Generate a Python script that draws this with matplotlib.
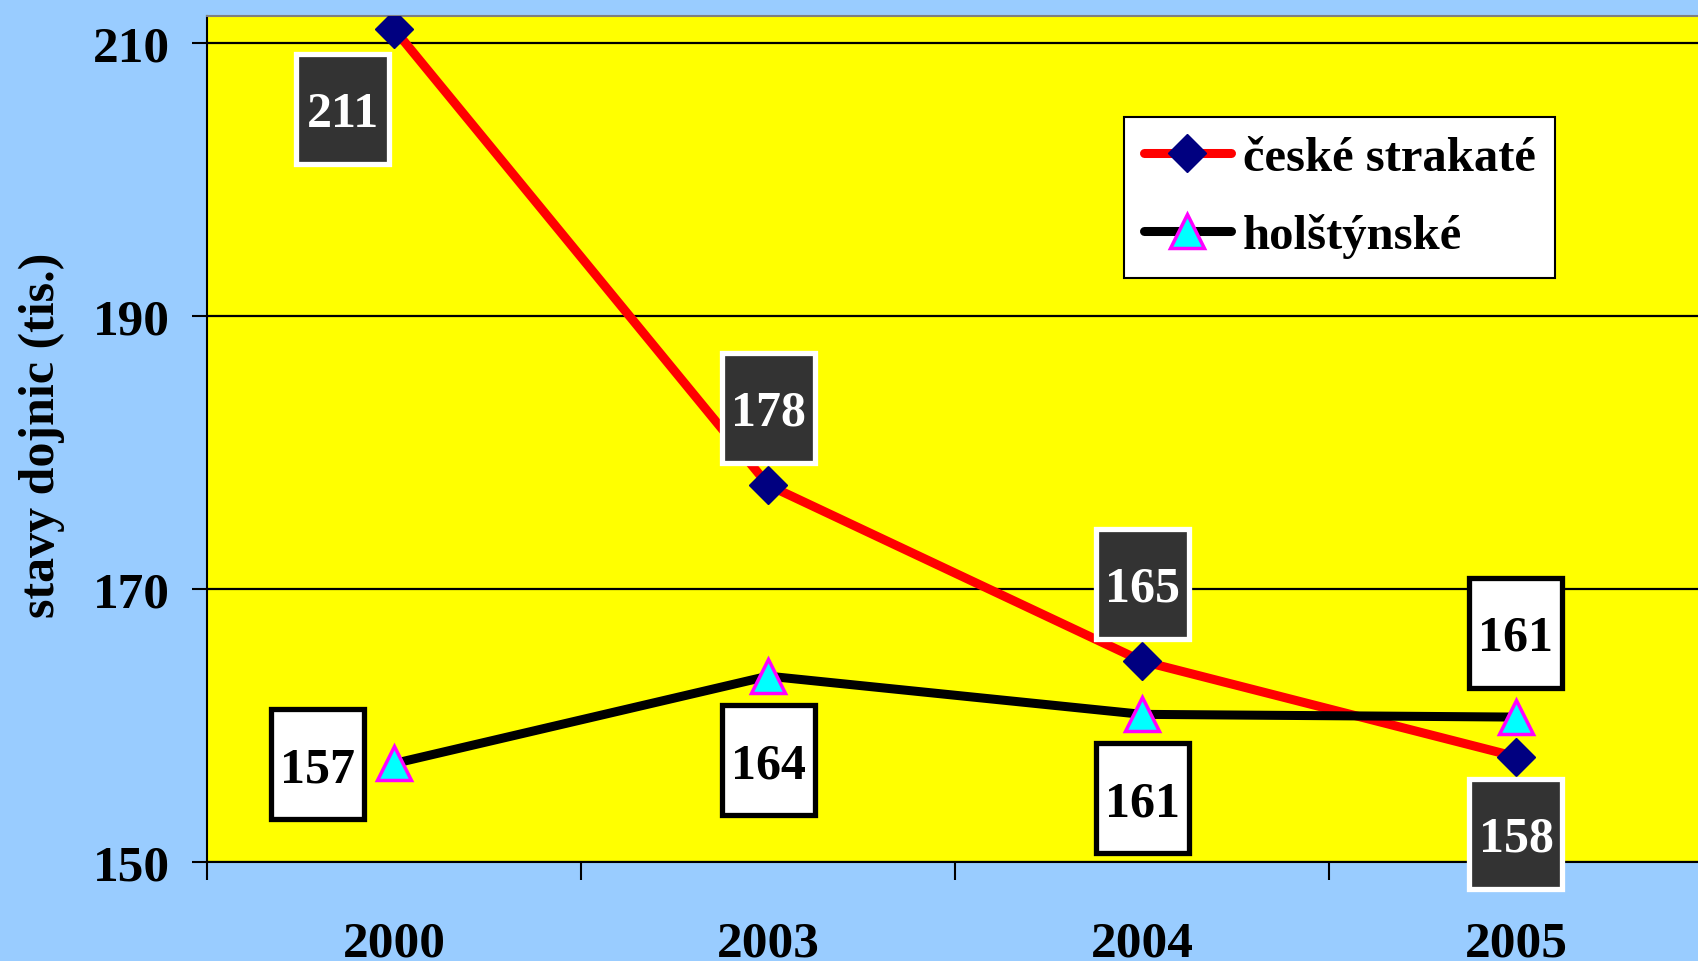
import matplotlib
matplotlib.use('Agg')
import matplotlib.pyplot as plt
from matplotlib.path import Path

years = ['2000', '2003', '2004', '2005']
ceske = [211.0, 177.6, 164.7, 157.7]
holstyn = [157.2, 163.6, 160.8, 160.6]
series_names = ['české strakaté', 'holštýnské']
yticks = [150, 170, 190, 210]

# label offsets (points) relative to the marker
ceske_off = [(-37, -61), (0, 52), (0, 52), (0, -59)]
holstyn_off = [(-55, -4), (0, -64), (0, -64), (0, 57)]

plt.rcParams['font.family'] = ['Liberation Serif', 'DejaVu Serif']
plt.rcParams['font.weight'] = 'bold'


def label_box(x0, y0, width, height, mutation_size):
    # fixed size box, centred on the digits
    w = 1.86 * mutation_size
    h = 2.2 * mutation_size
    cx = x0 + width / 2
    cy = y0 + height / 2 + 0.1 * mutation_size
    verts = [(cx - w / 2, cy - h / 2), (cx + w / 2, cy - h / 2),
             (cx + w / 2, cy + h / 2), (cx - w / 2, cy + h / 2),
             (cx - w / 2, cy - h / 2)]
    return Path(verts, closed=True)


fig = plt.figure(figsize=(16.98, 9.62), dpi=100, facecolor='#99CCFF')
ax = fig.add_axes([0.1221, 0.1032, 0.8808, 0.8794])
ax.set_facecolor('#FFFF00')

x = list(range(len(years)))
ax.plot(x, ceske, color='#FF0000', lw=6.5, marker='D', ms=19,
        mfc='#000080', mec='#000080', label=series_names[0], zorder=3,
        solid_capstyle='round')
ax.plot(x, holstyn, color='black', lw=6.5, marker='^', ms=25,
        mfc='#00FFFF', mec='#FF00FF', mew=2.5, label=series_names[1], zorder=3,
        solid_capstyle='round')

for xi, v, off in zip(x, ceske, ceske_off):
    ax.annotate(f'{v:.0f}', (xi, v), xytext=off, textcoords='offset points',
                ha='center', va='center', fontsize=36, color='white',
                bbox=dict(boxstyle=label_box, fc='#333333', ec='white', lw=3.8),
                zorder=6)
for xi, v, off in zip(x, holstyn, holstyn_off):
    ax.annotate(f'{v:.0f}', (xi, v), xytext=off, textcoords='offset points',
                ha='center', va='center', fontsize=36, color='black',
                bbox=dict(boxstyle=label_box, fc='white', ec='black', lw=3.8),
                zorder=6)

ax.set_xlim(-0.5, 3.5)
ax.set_ylim(150, 212)
ax.set_yticks(yticks)
ax.yaxis.grid(True, color='black', lw=1.6)
ax.set_axisbelow(True)

ax.set_xticks(x)
ax.set_xticklabels(years)
ax.set_xticks([-0.5, 0.5, 1.5, 2.5, 3.5], minor=True)
ax.tick_params(axis='x', which='major', length=0, pad=42, labelsize=37)
ax.tick_params(axis='x', which='minor', length=13, width=1.5, direction='out')
ax.tick_params(axis='y', length=11, width=1.5, direction='out', pad=16, labelsize=37)

ax.set_ylabel('stavy dojnic (tis.)', fontsize=36, fontweight='bold')
ax.yaxis.set_label_coords(-0.0951, 0.5056)

ax.spines['top'].set_color('#808080')
ax.spines['top'].set_linewidth(1.5)
ax.spines['right'].set_visible(False)
ax.spines['left'].set_linewidth(1.5)
ax.spines['bottom'].set_linewidth(1.5)

leg = ax.legend(loc='upper left', bbox_to_anchor=(0.6620, 0.8775),
                bbox_transform=fig.transFigure, fontsize=35, frameon=True,
                fancybox=False, framealpha=1, edgecolor='black',
                handlelength=1.8, handletextpad=0.25, labelspacing=0.68,
                borderpad=0.4, borderaxespad=0)
leg.get_frame().set_linewidth(1.5)
leg.set_zorder(7)

fig.savefig('out.png', dpi=100, facecolor=fig.get_facecolor())
